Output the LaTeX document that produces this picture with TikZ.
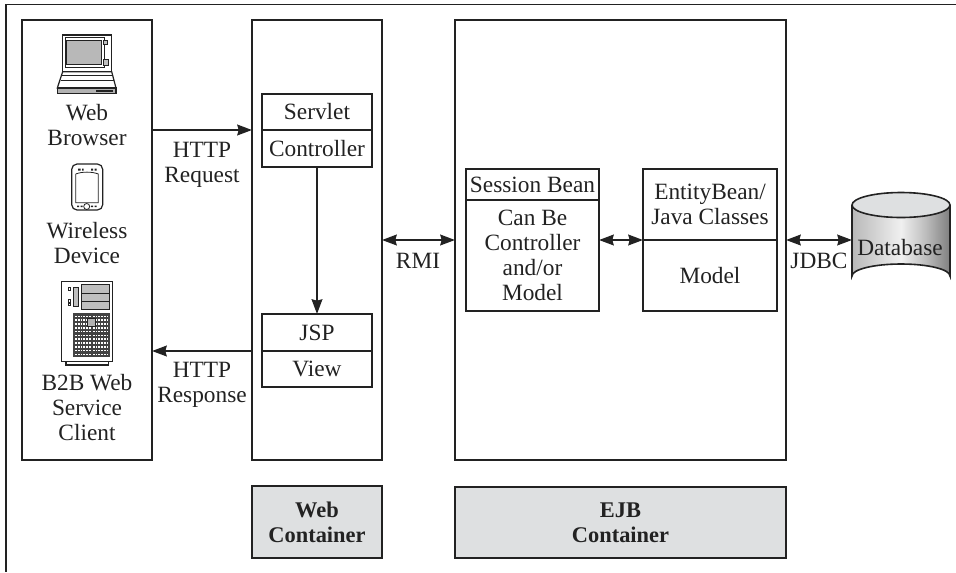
\documentclass[tikz,border=0pt]{standalone}
\usepackage{fontspec}
\setmainfont{Liberation Serif}
\usetikzlibrary{arrows.meta}
\definecolor{ink}{HTML}{222222}
\definecolor{panel}{HTML}{DEE0E1}
\pgfdeclarehorizontalshading{dbshade}{100bp}{
  color(0bp)=(black!60); color(10bp)=(black!45); color(28bp)=(black!25);
  color(50bp)=(black!6); color(62bp)=(black!25); color(76bp)=(black!52);
  color(90bp)=(black!68); color(100bp)=(black!75)}
\newcommand{\txt}{\fontsize{17.5}{18.75}\selectfont\color{ink}}
\newcommand{\txtb}{\fontsize{16.8}{18.75}\selectfont\bfseries\color{ink}}
\tikzset{
  x=0.75pt,y=-0.75pt,
  heavy/.style={draw=ink,line width=1.5pt,inner sep=0pt,outer sep=0pt},
  thinbox/.style={draw=ink,line width=1pt,inner sep=0pt,outer sep=0pt,align=center,font=\txt},
  footer/.style={draw=ink,line width=1.5pt,fill=panel,inner sep=0pt,outer sep=0pt,align=center,font=\txtb},
  lbl/.style={align=center,font=\txt,text=ink,inner sep=0pt},
  flow/.style={draw=ink,line width=1.6pt,-{Stealth[length=11pt,width=8pt,inset=1pt]}},
  twoflow/.style={draw=ink,line width=1.6pt,{Stealth[length=11pt,width=8pt,inset=1pt]}-{Stealth[length=11pt,width=8pt,inset=1pt]}},
  icon/.style={draw=ink,line width=0.6pt},
}
% style, name, x1, y1, x2, y2, text (in reference pixels)
\newcommand{\pxbox}[7]{\node[#1,minimum width={(#5-#3)*0.75pt},minimum height={(#6-#4)*0.75pt}] (#2) at ({(#3+#5)/2},{(#4+#6)/2}) {#7};}
\begin{document}
\begin{tikzpicture}
\useasboundingbox (0,0) rectangle (956,572);
% outer frame
\coordinate (frameA) at (956,4.5);
\coordinate (frameB) at (6,4.5);
\coordinate (frameC) at (6,572);
\draw[ink,line width=1.3pt] (frameA) -- (frameB) -- (frameC);
% tier boxes
\pxbox{heavy}{client}{22}{20}{152}{460}{}
\pxbox{heavy}{web}{252}{20}{382}{460}{}
\pxbox{heavy}{ejb}{455}{20}{786}{460}{}
\pxbox{footer}{webc}{252}{486}{382}{558}{Web\\Container}
\pxbox{footer}{ejbc}{455}{487}{786}{558}{EJB\\Container}
% inner boxes
\pxbox{thinbox}{servlet}{262}{94}{372}{130}{Servlet}
\pxbox{thinbox}{controller}{262}{130}{372}{167}{Controller}
\pxbox{thinbox}{jsp}{262}{314}{372}{351}{JSP}
\pxbox{thinbox}{view}{262}{351}{372}{387}{View}
\pxbox{thinbox}{session}{466}{169}{599}{200}{Session Bean}
\pxbox{thinbox}{cbc}{466}{200}{599}{311}{Can Be\\Controller\\and/or\\Model}
\pxbox{thinbox}{entity}{643}{169}{777}{240}{EntityBean/\\Java Classes}
\pxbox{thinbox}{model}{643}{240}{777}{311}{Model}
% database
\fill[shading=dbshade] (852,205) -- (852,276) arc[start angle=180,end angle=360,x radius=49,y radius=12] -- (950,205) -- cycle;
\draw[ink,line width=1.2pt] (852,205) -- (852,276) arc[start angle=180,end angle=360,x radius=49,y radius=12] -- (950,205);
\draw[ink,line width=1.2pt,fill=panel] (901,205) ellipse[x radius=49,y radius=12.5];
\pxbox{inner sep=0pt,outer sep=0pt}{db}{852}{205}{950}{288}{}
\node[lbl] (dblabel) at (900,248) {Database};
% connectors
\draw[flow] (client.east |- servlet.south west) -- (web.west |- servlet.south west);
\draw[flow] (controller.south) -- (jsp.north);
\draw[flow] (web.west |- jsp.south west) -- (client.east |- jsp.south west);
\coordinate (midY) at (0,240);
\draw[twoflow] (web.east |- midY) -- (ejb.west |- midY);
\draw[twoflow] (cbc.east |- midY) -- (model.west |- midY);
\draw[twoflow] (ejb.east |- midY) -- (db.west |- midY);
% labels
\node[lbl] (l1) at (87,125) {Web\\Browser};
\node[lbl] (l2) at (87,243) {Wireless\\Device};
\node[lbl] (l3) at (87,408) {B2B Web\\Service\\Client};
\node[lbl] (l4) at (202,165) {HTTP\\Request};
\node[lbl] (l5) at (202,385) {HTTP\\Response};
\node[lbl] (l6) at (418,261) {RMI};
\node[lbl] (l7) at (819,261) {JDBC};
% laptop
\draw[icon,fill=white,line width=0.9pt] (62.7,35) rectangle (111.7,71.7);
\draw[icon,fill=black!28] (66.7,40) rectangle (101.7,64);
\draw[icon] (65,37.5) rectangle (104,67);
\draw[icon,fill=black!25] (103.5,40) rectangle (107,44);
\draw[icon,fill=black!25] (103.5,59.5) rectangle (108,65);
\draw[icon,fill=white,line width=0.9pt] (62.7,71.7) -- (57.3,88) -- (116,88) -- (111.7,71.7) -- cycle;
\draw[icon] (62,75) -- (112,75);
\draw[icon] (60.5,80) -- (113.5,80);
\draw[icon,fill=black!30,line width=0.9pt] (57.3,88) rectangle (116,93.5);
\fill[ink] (96,90) rectangle (113,92);
% PDA
\draw[icon,fill=white,line width=0.9pt,rounded corners=4pt] (71.7,164) rectangle (102.7,210);
\draw[icon] (75.7,174) -- (75.7,202.7) -- (98.3,202.7) -- (98.3,174) .. controls (92,171.5) and (82,171.5) .. (75.7,174);
\fill[ink] (78,168.5) rectangle (80.5,170.5) (82,168.5) rectangle (83.5,170.5) (91,168.5) rectangle (93,170.5) (94.5,168.5) rectangle (96.5,170.5);
\draw[icon,fill=white] (86.7,206.5) circle[radius=3];
\fill[ink] (77,205.5) rectangle (79,207) (80.5,205.5) rectangle (82.5,207) (91,205.5) rectangle (93,207) (94.5,205.5) rectangle (96.5,207);
% server
\draw[icon,fill=white,line width=0.8pt] (66,361.7) rectangle (108.3,365);
\draw[icon,fill=white,line width=0.9pt] (61.7,281.7) rectangle (112.7,361.7);
\draw[icon,fill=black!25] (81.7,284.3) rectangle (109.3,309.3);
\draw[icon] (81.7,293.3) -- (109.3,293.3) (81.7,301.7) -- (109.3,301.7);
\draw[icon,fill=black!25] (73.3,287.3) rectangle (78.3,306);
\draw[icon] (68,287) rectangle (70.5,290);
\draw[icon] (68,299.5) rectangle (70.5,302);
\draw[icon] (68,303) rectangle (70.5,305.5);
\fill[ink!85] (73.3,312.7) rectangle (110,356.7);
\foreach \r in {0,...,10}{
  \foreach \c in {0,...,5}{
    \fill[white] ({75+\c*2.8},{315.5+\r*3.8}) rectangle +(1.7,1.6);
    \fill[white] ({93+\c*2.7},{315.5+\r*3.8}) rectangle +(1.7,1.6);
  }
}
\draw[icon,fill=black!30] (87.3,318.3) rectangle (95,326);
\end{tikzpicture}
\end{document}
